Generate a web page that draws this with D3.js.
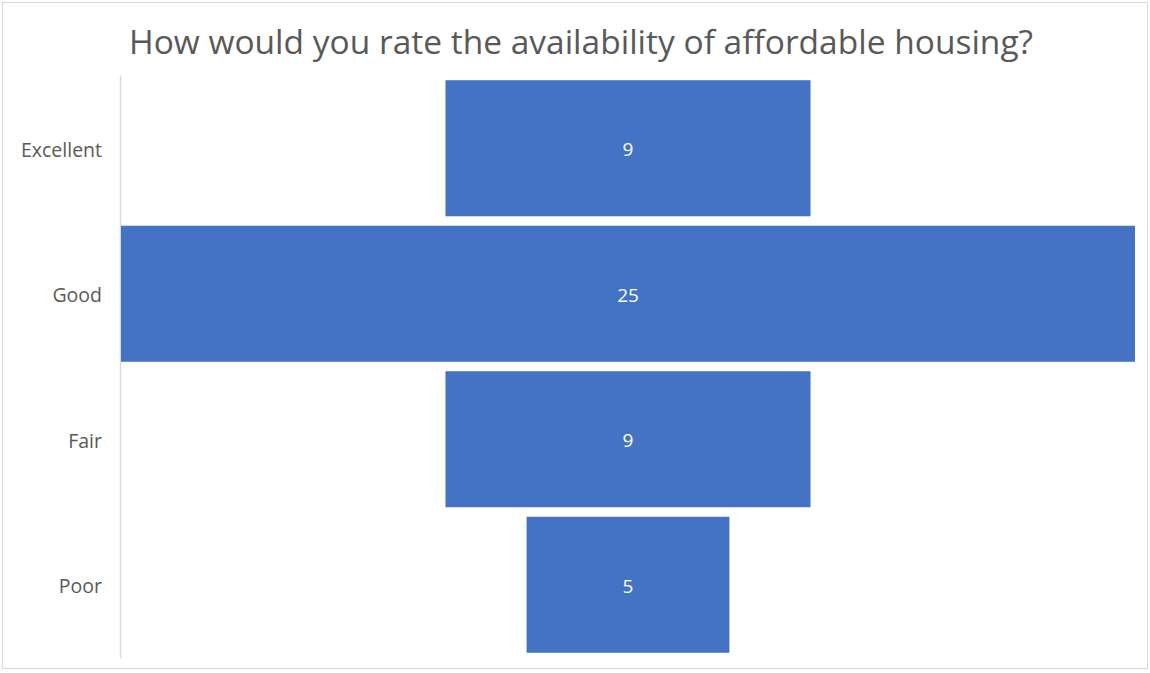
<!DOCTYPE html>
<html><head><meta charset="utf-8">
<script src="https://cdn.jsdelivr.net/npm/d3@7"></script>
<style>html,body{margin:0;padding:0;background:#fff;}svg{display:block;}</style>
</head><body>
<svg id="chart" width="1150" height="673"></svg>
<script>
const categories = ["Excellent", "Good", "Fair", "Poor"];
const values = [9, 25, 9, 5];
const title = "How would you rate the availability of affordable housing?";

(function () {
const svg = d3.select("#chart");
const W = 1150, H = 673;
const font = "'Open Sans', 'Noto Sans', sans-serif";

svg.append("rect").attr("x", 2.5).attr("y", 2.5).attr("width", W - 5).attr("height", H - 7)
  .attr("fill", "#fff").attr("stroke", "#d9d9d9").attr("stroke-width", 1);

const pLeft = 121, pRight = 1135, pTop = 75.5, pBottom = 657.5;
const center = (pLeft + pRight) / 2;
const maxV = d3.max(values);
const w = d3.scaleLinear().domain([0, maxV]).range([0, pRight - pLeft]);
const y = d3.scaleBand().domain(categories).range([pTop, pBottom]).paddingInner(0.065).paddingOuter(0.0325);

svg.append("text").attr("x", 581).attr("y", 54).attr("text-anchor", "middle")
  .attr("font-family", font).attr("font-size", 33.5).attr("fill", "#595959").text(title);

svg.append("line").attr("x1", pLeft - 0.5).attr("x2", pLeft - 0.5).attr("y1", pTop).attr("y2", pBottom + 1)
  .attr("stroke", "#d9d9d9").attr("stroke-width", 1.5);

svg.selectAll("rect.bar").data(categories).join("rect").attr("class", "bar")
  .attr("x", (d, i) => center - w(values[i]) / 2)
  .attr("y", d => y(d))
  .attr("width", (d, i) => w(values[i]))
  .attr("height", y.bandwidth())
  .attr("fill", "#4472c4");

svg.selectAll("text.val").data(categories).join("text").attr("class", "val")
  .attr("x", center).attr("y", d => y(d) + y.bandwidth() / 2 + 1.5)
  .attr("dy", "0.35em").attr("text-anchor", "middle")
  .attr("font-family", font).attr("font-size", 19).attr("fill", "#fff")
  .text((d, i) => values[i]);

svg.selectAll("text.cat").data(categories).join("text").attr("class", "cat")
  .attr("x", 102).attr("y", d => y(d) + y.bandwidth() / 2 + 1.5)
  .attr("dy", "0.35em").attr("text-anchor", "end")
  .attr("font-family", font).attr("font-size", 19.5).attr("fill", "#595959")
  .text(d => d);
})();
</script>
</body></html>
